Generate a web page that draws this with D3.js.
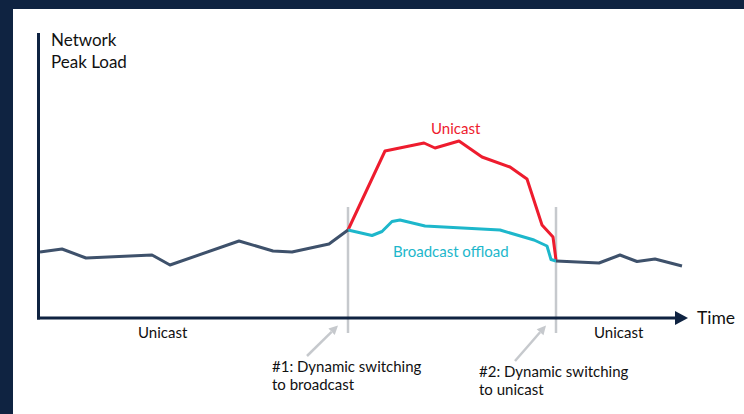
<!DOCTYPE html>
<html><head><meta charset="utf-8">
<script src="https://cdn.jsdelivr.net/npm/d3@7"></script>
<style>
html,body{margin:0;padding:0;background:#fff;}
svg{display:block;}
text{font-family:"Lato","Open Sans",sans-serif;}
</style></head>
<body>
<svg id="c" width="744" height="414"></svg>
<script>
// ---- data (time units, load units) ----
const unicastBeforeT = [2,24,48,114,132,201,235,254,291,310];
const unicastBeforeV = [66,69,60,63,53,77,67,66,74,88];
const unicastPeakT   = [310,347,386,397,421,444,472,489,504,515,518];
const unicastPeakV   = [88,167,175,170,177,161,151,139,93,81,58];
const broadcastT     = [310,334,344,354,362,387,462,496,509,513,518];
const broadcastV     = [88,82.5,86.5,96.5,98,92,88,78,72,58.5,57];
const unicastAfterT  = [518,561,582,599,617,644];
const unicastAfterV  = [57,55,63,56.5,59,52];
const switchTimes    = [310,518];
const switchLabels   = [["#1: Dynamic switching","to broadcast"],["#2: Dynamic switching","to unicast"]];
const phaseLabels    = ["Unicast","Unicast"];

const svg = d3.select("#c");
const W = 744, H = 414;
const navy = "#0f2341";

// frame
svg.append("rect").attr("x",0).attr("y",0).attr("width",W).attr("height",9).attr("fill",navy);
svg.append("rect").attr("x",0).attr("y",0).attr("width",13).attr("height",H).attr("fill",navy);

const x = d3.scaleLinear().domain([0,650]).range([38,688]);
const y = d3.scaleLinear().domain([0,285]).range([318,33]);

const zip = (t,v)=>t.map((d,i)=>[d,v[i]]);
const line = d3.line().x(d=>x(d[0])).y(d=>y(d[1]));

// switch markers
switchTimes.forEach(t=>{
  svg.append("line").attr("x1",x(t)).attr("x2",x(t)).attr("y1",207).attr("y2",333)
    .attr("stroke","#c6c9cd").attr("stroke-width",2.5);
});

// series
svg.append("path").attr("d",line(zip(unicastPeakT,unicastPeakV))).attr("fill","none")
  .attr("stroke","#ee1c2e").attr("stroke-width",3).attr("stroke-linejoin","round");
svg.append("path").attr("d",line(zip(broadcastT,broadcastV))).attr("fill","none")
  .attr("stroke","#1db7cb").attr("stroke-width",3).attr("stroke-linejoin","round");
[zip(unicastBeforeT,unicastBeforeV), zip(unicastAfterT,unicastAfterV)].forEach(d=>{
  svg.append("path").attr("d",line(d)).attr("fill","none")
    .attr("stroke","#3e516b").attr("stroke-width",3).attr("stroke-linejoin","round");
});

// axes
svg.append("line").attr("x1",38.5).attr("x2",38.5).attr("y1",33).attr("y2",319.5)
  .attr("stroke",navy).attr("stroke-width",3);
svg.append("line").attr("x1",37).attr("x2",678).attr("y1",318).attr("y2",318)
  .attr("stroke",navy).attr("stroke-width",3);
svg.append("path").attr("d","M675,311 L688,318 L675,325 Z").attr("fill",navy);

svg.append("text").attr("x",697).attr("y",324).attr("font-size",17.5).attr("fill","#111").text("Time");
const yl = svg.append("text").attr("x",51).attr("y",45.5).attr("font-size",17).attr("fill","#111");
yl.append("tspan").attr("x",51).text("Network");
yl.append("tspan").attr("x",51).attr("dy",22).text("Peak Load");

// series labels
svg.append("text").attr("x",431).attr("y",134).attr("font-size",15).attr("fill","#ee1c2e").text("Unicast");
svg.append("text").attr("x",393).attr("y",257).attr("font-size",15).attr("fill","#1db7cb").text("Broadcast offload");

// phase labels
svg.append("text").attr("x",138).attr("y",338).attr("font-size",15).attr("fill","#111").text(phaseLabels[0]);
svg.append("text").attr("x",594).attr("y",338).attr("font-size",15).attr("fill","#111").text(phaseLabels[1]);

// annotation arrows and labels
const annY = [372,377];
const annX = [272,479];
switchTimes.forEach((t,i)=>{
  const tipX = x(t)-10, tipY = 325.5;
  const sx = tipX-31, sy = annY[i]-16;
  const ang = Math.atan2(tipY-sy, tipX-sx);
  const hl = 9, hw = 4.5;
  const bx = tipX - hl*Math.cos(ang), by = tipY - hl*Math.sin(ang);
  svg.append("line").attr("x1",sx).attr("y1",sy).attr("x2",bx).attr("y2",by)
    .attr("stroke","#c6c9cd").attr("stroke-width",2.5);
  const px = -Math.sin(ang), py = Math.cos(ang);
  svg.append("path").attr("d",`M${tipX},${tipY} L${bx+px*hw},${by+py*hw} L${bx-px*hw},${by-py*hw} Z`)
    .attr("fill","#c6c9cd");
  const tx = svg.append("text").attr("font-size",15).attr("fill","#111");
  switchLabels[i].forEach((s,j)=>{
    tx.append("tspan").attr("x",annX[i]).attr("y",annY[i]+j*18).text(s);
  });
});
</script>
</body></html>
